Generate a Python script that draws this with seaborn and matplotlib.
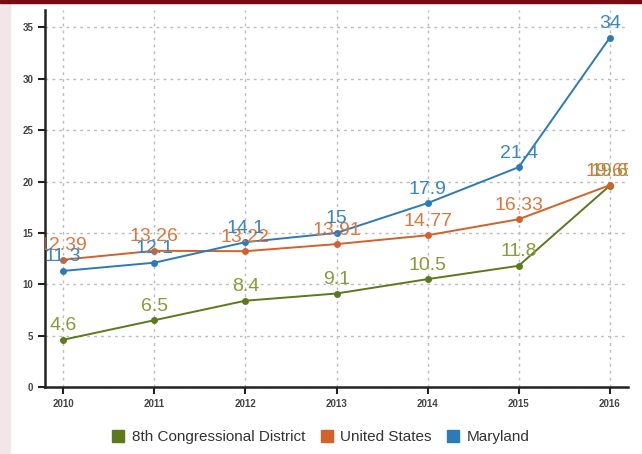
import matplotlib
matplotlib.use("Agg")
import matplotlib.pyplot as plt
import seaborn as sns
import pandas as pd
from matplotlib.patches import Rectangle

years = [2010, 2011, 2012, 2013, 2014, 2015, 2016]
district = [4.6, 6.5, 8.4, 9.1, 10.5, 11.8, 19.6]
united_states = [12.39, 13.26, 13.22, 13.91, 14.77, 16.33, 19.65]
maryland = [11.3, 12.1, 14.1, 15, 17.9, 21.4, 34]
series_names = ["8th Congressional District", "United States", "Maryland"]
line_colors = ["#5a7a1c", "#d2622a", "#2b7bb9"]
label_colors = ["#8a9a3a", "#d9783e", "#3a86c0"]

df = pd.DataFrame({
    "year": years * 3,
    "value": district + united_states + maryland,
    "series": [series_names[0]] * 7 + [series_names[1]] * 7 + [series_names[2]] * 7,
})

sns.set_theme(style="white")
plt.rcParams["font.family"] = ["Liberation Sans", "DejaVu Sans"]

fig = plt.figure(figsize=(6.42, 4.54), dpi=100)
fig.patches.append(Rectangle((0, 0), 10 / 642, 1, transform=fig.transFigure,
                             color="#f3e6e8", zorder=-1))
fig.patches.append(Rectangle((0, 1 - 3 / 454), 1, 3 / 454, transform=fig.transFigure,
                             color="#7a0a14", zorder=-1))
ax = fig.add_axes([45 / 642, 1 - 387 / 454, (628 - 45) / 642, (387 - 10) / 454])

sns.lineplot(data=df, x="year", y="value", hue="series", palette=line_colors,
             marker="o", markersize=5, markeredgewidth=0, linewidth=1.4,
             ax=ax, legend=False)

for vals, col in zip([district, united_states, maryland], label_colors):
    for x, y in zip(years, vals):
        ax.annotate(f"{y:g}", (x, y), xytext=(0, 4), textcoords="offset points",
                    ha="center", va="bottom", fontsize=14, color=col,
                    annotation_clip=False, clip_on=True)

ax.set_xlim(2009.8, 2016.2)
ax.set_ylim(0, 36.7)
ax.set_xticks(years)
ax.set_yticks([0, 5, 10, 15, 20, 25, 30, 35])
ax.set_xlabel("")
ax.set_ylabel("")
ax.grid(True, color="#bbbbbb", linestyle=(0, (2, 3)), linewidth=1)
for side in ["top", "right"]:
    ax.spines[side].set_visible(False)
for side in ["left", "bottom"]:
    ax.spines[side].set_color("#222222")
    ax.spines[side].set_linewidth(1.8)
ax.tick_params(axis="both", length=5, width=1.5, color="#222222", direction="out",
               labelsize=7, labelcolor="#444444", bottom=True, left=True)
for t in ax.get_xticklabels() + ax.get_yticklabels():
    t.set_fontweight("bold")

handles = [Rectangle((0, 0), 1, 1, color=c) for c in line_colors]
fig.legend(handles, series_names, loc="center", bbox_to_anchor=(0.5, 1 - 437 / 454),
           ncol=3, frameon=False, fontsize=11, handlelength=0.8, handleheight=0.8,
           handletextpad=0.5, columnspacing=1.0, labelcolor="#333333")

fig.savefig("out.png", dpi=100)
